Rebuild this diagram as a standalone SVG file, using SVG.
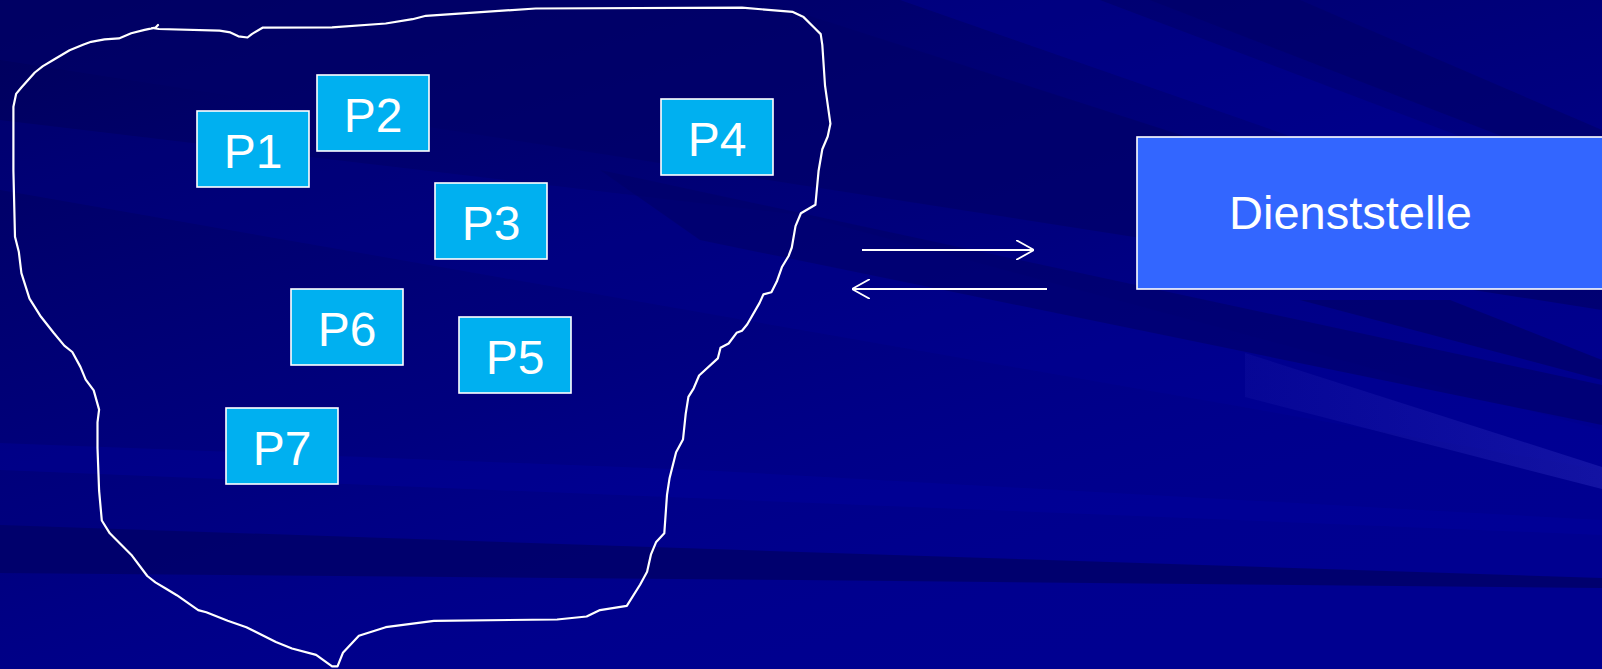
<svg xmlns="http://www.w3.org/2000/svg" width="1602" height="669" viewBox="0 0 1602 669">
  <defs>
    <linearGradient id="leftShade" x1="0" y1="0" x2="0.7" y2="1">
      <stop offset="0" stop-color="#000050" stop-opacity="0.85"/>
      <stop offset="0.55" stop-color="#000060" stop-opacity="0.35"/>
      <stop offset="1" stop-color="#000090" stop-opacity="0"/>
    </linearGradient>
    <linearGradient id="ray" x1="0" y1="0" x2="1" y2="0">
      <stop offset="0" stop-color="#1a1aa8" stop-opacity="0.25"/>
      <stop offset="1" stop-color="#2020b0" stop-opacity="0.6"/>
    </linearGradient>
    <marker id="openHead" viewBox="0 0 18 20" refX="18" refY="10" markerWidth="18" markerHeight="20" markerUnits="userSpaceOnUse" orient="auto">
      <path d="M0,0 L18,10 L0,20" fill="none" stroke="#ffffff" stroke-width="1.8"/>
    </marker>
  </defs>
  <style>
    .pbox { fill: #00B0F0; stroke: #ffffff; stroke-width: 1.6; }
    .plabel { font-family: "Liberation Sans", Arial, sans-serif; font-size: 48px; fill: #ffffff; text-anchor: middle; }
    .conn { stroke: #ffffff; stroke-width: 1.8; fill: none; }
    .outline { stroke: #ffffff; stroke-width: 2.2; fill: none; stroke-linejoin: round; stroke-linecap: round; }
    .dark { fill: #000068; }
    .light { fill: #0000A6; }
  </style>

  <!-- background -->
  <g id="background">
    <rect x="0" y="0" width="1602" height="669" fill="#000090"/>
    <rect x="0" y="0" width="1602" height="669" fill="url(#leftShade)"/>
    <polygon class="dark" points="0,0 760,0 1602,270 1602,310 0,60" opacity="0.7"/>
    <polygon class="light" points="900,0 1100,0 1602,190 1602,245" opacity="0.3"/>
    <polygon class="dark" points="1150,0 1300,0 1602,130 1602,175" opacity="0.6"/>
    <polygon class="light" points="0,120 800,215 1602,430 1602,470 0,190" opacity="0.2"/>
    <polygon class="dark" points="600,170 1602,385 1602,425 700,240" opacity="0.6"/>
    <polygon class="dark" points="1300,300 1450,300 1602,360 1602,380" opacity="0.7"/>
    <polygon fill="url(#ray)" points="1245,353 1602,467 1602,489 1245,397"/>
    <polygon class="light" points="0,443 700,470 1602,520 1602,535 0,470" opacity="0.3"/>
    <polygon class="dark" points="0,525 800,552 1602,578 1602,588 800,580 0,573" opacity="0.85"/>
  </g>

  <!-- freehand outline -->
  <g id="region">
    <path class="outline" d="M152,28 L159,29 L219.6,30.7 L230.4,32.4 L238.4,36.3 L247.5,37.5 L251.8,34.1 L262.5,27.7 L332.1,27.3 L385.7,23.5 L412.5,19.2 L425.9,15.8 L535.7,8.5 L742,7.7 L792.9,11.9 L803.6,17.1 L814.3,27.7 L820.7,34.1 L822.3,44.8 L825,85.3 L830.4,123.7 L827.7,136.5 L822.3,149.3 L818.6,170.7 L815.4,204.8 L800.9,213.3 L795.5,226.1 L791.8,247.5 L788.6,256 L782.1,266.7 L776.8,281.6 L771.4,292.3 L763.4,294.4 L759.6,302.9 L747.3,324.3 L742,330.7 L736.6,332.8 L728.6,343.5 L720.5,347.7 L717.8,358.4 L699.1,375.5 L693.7,388.3 L688.4,396.8 L685.7,413.9 L683,439.5 L676.1,452.3 L669.6,477.9 L667,494.9 L664.3,533.3 L656.2,541.9 L650.9,554.7 L647.1,571.7 L640.2,584.5 L626.8,605.9 L600,610.1 L586.6,616.5 L557.1,619.5 L433.9,620.8 L385.7,627.2 L358.9,635.7 L342.9,652.8 L337.5,666.4 L332.1,666.4 L316.1,654.9 L292,648.5 L275.9,642.1 L246.4,627.2 L227.7,620.8 L206.3,612.3 L198.2,610.1 L176.8,595.2 L166.1,588.8 L155.4,582.4 L147.3,576 L131.2,554.7 L109.8,533.3 L101.8,520.5 L99.1,490.7 L97.5,448 L97.5,422.4 L99.1,409.6 L93.7,390.4 L85.7,379.7 L80.4,366.9 L72.3,352 L64.3,345.6 L53.6,332.8 L40.2,315.7 L29.5,298.7 L21.4,273.1 L18.8,251.7 L15,236.8 L13.4,170.7 L13.4,106.7 L16.1,93.9 L21.4,87.5 L34.8,72.5 L42.9,66.1 L53.6,59.7 L69.6,50.3 L83,44.8 L91.1,41.8 L104.5,39.3 L118.9,38.4 L131.2,33.3 L144.6,29.9 L155.4,27.7 L158,25"/>
  </g>

  <!-- nodes -->
  <g id="P1"><rect class="pbox" x="197" y="111" width="112" height="76"/><text class="plabel" x="253" y="168">P1</text></g>
  <g id="P2"><rect class="pbox" x="317" y="75" width="112" height="76"/><text class="plabel" x="373" y="132">P2</text></g>
  <g id="P3"><rect class="pbox" x="435" y="183" width="112" height="76"/><text class="plabel" x="491" y="240">P3</text></g>
  <g id="P4"><rect class="pbox" x="661" y="99" width="112" height="76"/><text class="plabel" x="717" y="156">P4</text></g>
  <g id="P6"><rect class="pbox" x="291" y="289" width="112" height="76"/><text class="plabel" x="347" y="346">P6</text></g>
  <g id="P5"><rect class="pbox" x="459" y="317" width="112" height="76"/><text class="plabel" x="515" y="374">P5</text></g>
  <g id="P7"><rect class="pbox" x="226" y="408" width="112" height="76"/><text class="plabel" x="282" y="465">P7</text></g>

  <g id="Dienststelle">
    <rect x="1137" y="137" width="480" height="152" fill="#3366FF" stroke="#ffffff" stroke-width="1.6"/>
    <text x="1229" y="229" font-family="Liberation Sans, Arial, sans-serif" font-size="47" fill="#ffffff">Dienststelle</text>
  </g>

  <!-- connectors -->
  <g id="connectors">
    <line class="conn" x1="862" y1="250" x2="1034" y2="250" marker-end="url(#openHead)"/>
    <line class="conn" x1="1047" y1="289" x2="852" y2="289" marker-end="url(#openHead)"/>
  </g>
</svg>
